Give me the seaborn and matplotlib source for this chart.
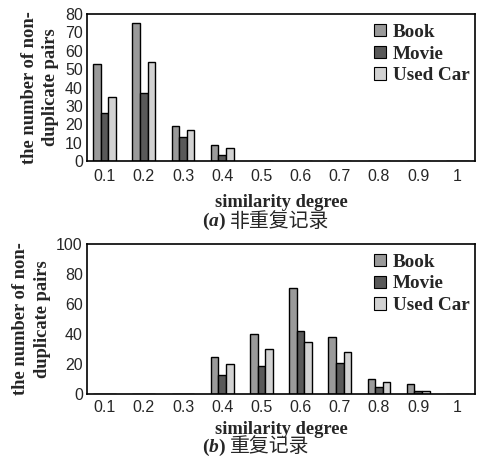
import pandas as pd
import matplotlib
matplotlib.use("Agg")
import matplotlib.pyplot as plt
import seaborn as sns

degrees = ["0.1", "0.2", "0.3", "0.4", "0.5", "0.6", "0.7", "0.8", "0.9", "1"]
datasets = ["Book", "Movie", "Used Car"]

# (a) non-duplicate records
book_a = [53, 75, 19, 8.5, 0, 0, 0, 0, 0, 0]
movie_a = [26, 37, 13, 3.5, 0, 0, 0, 0, 0, 0]
car_a = [35, 54, 17, 7, 0, 0, 0, 0, 0, 0]

# (b) duplicate records
book_b = [0, 0, 0, 25, 40, 71, 38, 10, 6.5, 0]
movie_b = [0, 0, 0, 13, 19, 42, 21, 5, 2, 0]
car_b = [0, 0, 0, 20, 30, 35, 28, 8, 2, 0]

colors = ["#9a9a9a", "#595959", "#d2d2d2"]
serif = "Liberation Serif"
sans = "Liberation Sans"
W, H = 481, 463


def make_frame(book, movie, car):
    rows = []
    for name, vals in zip(datasets, [book, movie, car]):
        for d, v in zip(degrees, vals):
            rows.append({"degree": d, "dataset": name, "count": v})
    return pd.DataFrame(rows)


def draw_panel(ax, df, ymax, ystep, tickpad, xlabelpad):
    sns.barplot(data=df, x="degree", y="count", hue="dataset", order=degrees,
                hue_order=datasets, palette=colors, edgecolor="black",
                linewidth=1.0, width=0.58, ax=ax)
    ax.set_ylim(0, ymax)
    ax.set_xlim(-0.45, len(degrees) - 0.55)
    ax.set_yticks(range(0, ymax + 1, ystep))
    ax.tick_params(axis="y", direction="in", length=4, width=1, labelsize=11.5, pad=3)
    ax.tick_params(axis="x", which="major", length=0, labelsize=11.5, pad=tickpad)
    # tick marks sit between the categories
    ax.set_xticks([i + 0.5 for i in range(len(degrees) - 1)], minor=True)
    ax.tick_params(axis="x", which="minor", direction="in", length=4, width=1)
    for lab in ax.get_xticklabels() + ax.get_yticklabels():
        lab.set_fontfamily(sans)
    for s in ax.spines.values():
        s.set_linewidth(1.2)
        s.set_color("black")
    ax.set_xlabel("similarity degree", fontfamily=serif, fontweight="bold",
                  fontsize=13.3, labelpad=xlabelpad)
    ax.set_ylabel("the number of non-\nduplicate pairs", fontfamily=serif,
                  fontweight="bold", fontsize=13.3, linespacing=1.35, labelpad=4)
    leg = ax.legend(loc="upper right", bbox_to_anchor=(1.02, 1.025), frameon=False,
                    handlelength=0.6, handleheight=0.6, handletextpad=0.35,
                    labelspacing=0.25, borderaxespad=0.3,
                    prop={"family": serif, "weight": "bold", "size": 13.8})
    for h in leg.legend_handles:
        h.set_edgecolor("black")
        h.set_linewidth(0.8)


def caption(fig, letter, label, ypix):
    y = 1 - ypix / H
    fig.text(205 / W, y, "(", ha="center", va="center", fontsize=14,
             fontfamily=serif, fontweight="bold")
    fig.text(213.5 / W, y, letter, ha="center", va="center", fontsize=14,
             fontfamily=serif, fontweight="bold", fontstyle="italic")
    fig.text(222 / W, y, ")", ha="center", va="center", fontsize=14,
             fontfamily=serif, fontweight="bold")
    fig.text(230 / W, y, label, ha="left", va="center", fontsize=14.3,
             fontfamily="Noto Sans CJK SC")


sns.set_style("white")
plt.rcParams["font.family"] = ["Liberation Serif", "Noto Sans CJK SC"]

fig = plt.figure(figsize=(W / 100, H / 100), dpi=100)
ax1 = fig.add_axes([87 / W, 1 - 161 / H, 388 / W, 147 / H])
ax2 = fig.add_axes([87 / W, 1 - 394 / H, 388 / W, 150 / H])

draw_panel(ax1, make_frame(book_a, movie_a, car_a), 80, 10, tickpad=6, xlabelpad=7)
draw_panel(ax2, make_frame(book_b, movie_b, car_b), 100, 20, tickpad=4, xlabelpad=5)

caption(fig, "a", "非重复记录", 221)
caption(fig, "b", "重复记录", 447)

fig.savefig("out.png", dpi=100)
